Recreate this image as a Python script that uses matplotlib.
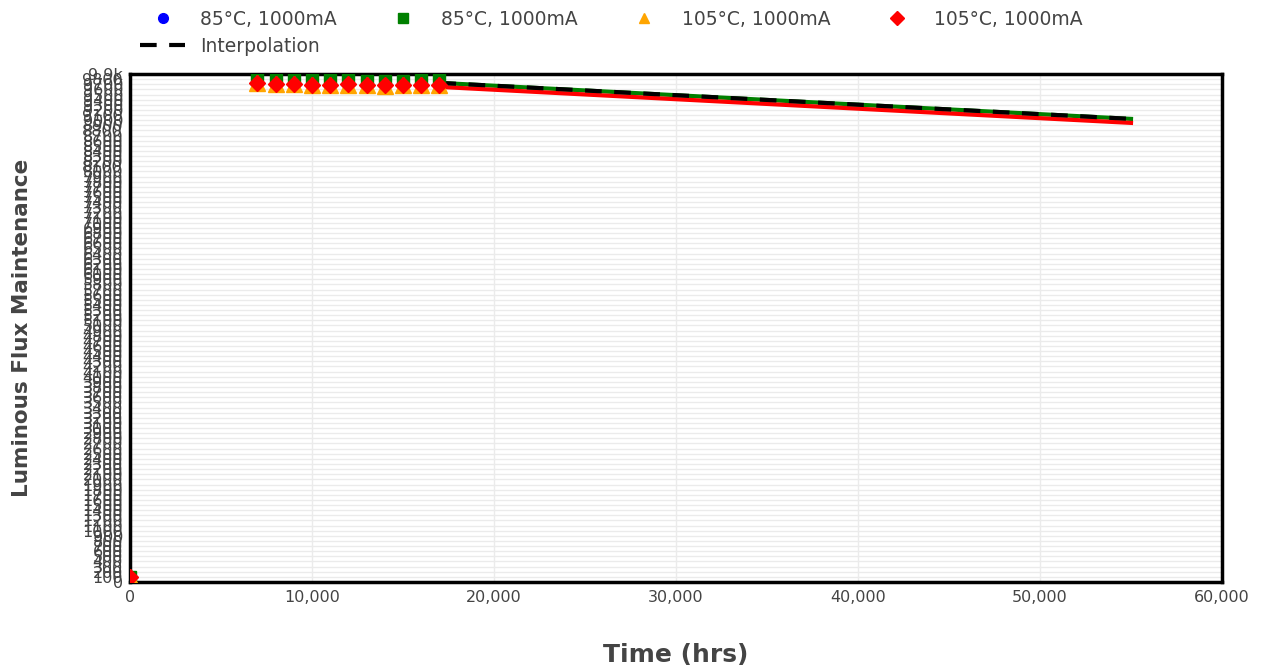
import matplotlib
matplotlib.use("Agg")
import matplotlib.pyplot as plt
from matplotlib.ticker import FuncFormatter, MultipleLocator

# ---- data ----
hours = [0, 7000, 8000, 9000, 10000, 11000, 12000, 13000, 14000, 15000, 16000, 17000]
flux_85_a = [100, 9805, 9786, 9786, 9786, 9786, 9786, 9766, 9766, 9766, 9786, 9786]
flux_85_b = [100, 9805, 9786, 9786, 9786, 9786, 9786, 9766, 9766, 9766, 9786, 9786]
flux_105_a = [100, 9715, 9700, 9700, 9690, 9690, 9690, 9680, 9675, 9680, 9690, 9690]
flux_105_b = [100, 9720, 9705, 9705, 9695, 9695, 9700, 9685, 9680, 9685, 9695, 9695]

interp_hours = [17000, 55000]
interp_85 = [9727, 9025]
interp_105 = [9649, 8947]

series_labels = ["85°C, 1000mA", "85°C, 1000mA", "105°C, 1000mA", "105°C, 1000mA", "Interpolation"]

x_ticks = [0, 10000, 20000, 30000, 40000, 50000, 60000]
y_max = 9900
y_step = 100

# ---- figure ----
fig = plt.figure(figsize=(12.66, 6.68), dpi=100)
ax = fig.add_axes([130/1266, 1 - 582/668, (1222-130)/1266, (582-74)/668])

grey = "#444444"

ax.plot(interp_hours, interp_85, color="green", lw=3, zorder=3)
ax.plot(interp_hours, interp_105, color="red", lw=3, zorder=3)
h_int, = ax.plot(interp_hours, interp_85, color="black", lw=3, dashes=(4, 3), zorder=4,
                 label=series_labels[4])

h1, = ax.plot(hours, flux_85_a, "o", color="blue", ms=8, ls="none", label=series_labels[0], zorder=5)
h2, = ax.plot(hours, flux_85_b, "s", color="green", ms=8, ls="none", label=series_labels[1], zorder=6)
h3, = ax.plot(hours, flux_105_a, "^", color="orange", ms=11, ls="none", label=series_labels[2], zorder=7)
h4, = ax.plot(hours, flux_105_b, "D", color="red", ms=8, ls="none", label=series_labels[3], zorder=8)

ax.set_xlim(0, 60000)
ax.set_ylim(0, y_max)
ax.set_xticks(x_ticks)
ax.xaxis.set_major_formatter(FuncFormatter(lambda v, p: f"{int(v):,}"))
ax.yaxis.set_major_locator(MultipleLocator(y_step))

def yfmt(v, p):
    v = int(round(v))
    if v >= 9900:
        return f"{v/1000:.1f}k"
    return str(v)

ax.yaxis.set_major_formatter(FuncFormatter(yfmt))
ax.tick_params(axis="both", length=0, labelsize=11.5, colors=grey, pad=6)
ax.tick_params(axis="y", pad=5)
ax.grid(True, color="#ebebeb", lw=1)
ax.set_axisbelow(True)
for s in ax.spines.values():
    s.set_linewidth(2.5)
    s.set_color("black")

ax.set_xlabel("Time (hrs)", fontsize=18, fontweight="bold", color=grey, va="center")
ax.xaxis.set_label_coords(0.5, -73/508)
ax.set_ylabel("Luminous Flux Maintenance", fontsize=15.5, fontweight="bold", color=grey, va="center")
ax.yaxis.set_label_coords(-108/1092, 0.5)

leg = fig.legend([h1, h_int, h2, h3, h4],
                 [series_labels[0], series_labels[4], series_labels[1], series_labels[2], series_labels[3]],
                 ncol=4, loc="upper left", bbox_to_anchor=(140/1266, 1 - 10/668),
                 frameon=False, fontsize=13.5, handlelength=2.4, handletextpad=0.8,
                 columnspacing=2.35, labelspacing=0.4, borderaxespad=0, borderpad=0)
for t in leg.get_texts():
    t.set_color(grey)
for lh in leg.legend_handles:
    lh.set_markersize(7)

fig.savefig("out.png", dpi=100)
